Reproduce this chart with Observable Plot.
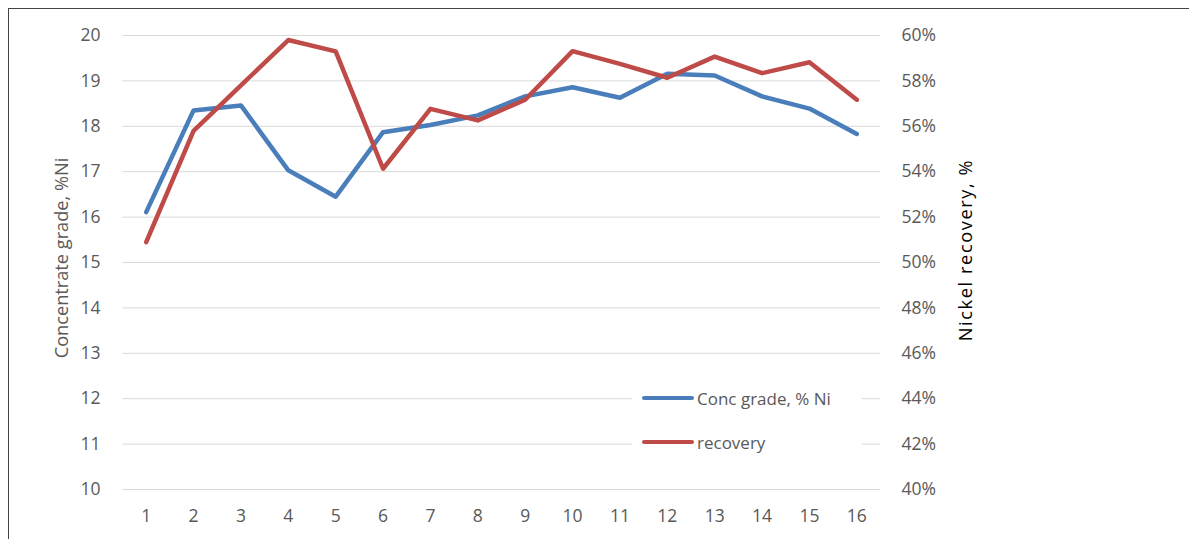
<!DOCTYPE html>
<html>
<head>
<meta charset="utf-8">
<script src="https://cdn.jsdelivr.net/npm/d3@7"></script>
<script src="https://cdn.jsdelivr.net/npm/@observablehq/plot@0.6"></script>
<style>
  html, body { margin: 0; padding: 0; background: #fff; }
  #wrap { position: relative; width: 1189px; height: 539px; overflow: hidden; font-family: "Open Sans", sans-serif; }
  #frame { position: absolute; left: 8px; top: 8px; width: 1200px; height: 600px; border: 1px solid #444; box-sizing: border-box; pointer-events: none; }
  #legend { position: absolute; left: 632px; top: 382px; width: 230px; height: 76px; background: #fff; }
  .item { position: absolute; left: 0; height: 22px; display: flex; align-items: center; font-size: 17px; color: #595959; white-space: nowrap; }
  .swatch { width: 52px; height: 4px; border-radius: 2px; margin-left: 10px; margin-right: 3px; }
  .axlabel { position: absolute; white-space: nowrap; line-height: 1; transform: translate(-50%, -50%) rotate(-90deg); }
</style>
</head>
<body>
<div id="wrap"><div id="chart"></div><div id="legend"></div>
<div id="lab-left" class="axlabel" style="left:61px; top:258px; font-size:18.2px; color:#595959;"></div>
<div id="lab-right" class="axlabel" style="left:965px; top:250px; font-size:18.2px; letter-spacing:1.6px; color:#000;"></div>
<div id="frame"></div></div>
<script>
const categories = [1, 2, 3, 4, 5, 6, 7, 8, 9, 10, 11, 12, 13, 14, 15, 16];
const concGrade = [16.11, 18.35, 18.46, 17.03, 16.45, 17.87, 18.03, 18.24, 18.66, 18.86, 18.63, 19.16, 19.12, 18.66, 18.39, 17.83];
const recovery = [50.9, 55.8, 57.8, 59.8, 59.3, 54.13, 56.77, 56.26, 57.17, 59.31, 58.75, 58.14, 59.07, 58.34, 58.82, 57.17];
const leftTicks = [10, 11, 12, 13, 14, 15, 16, 17, 18, 19, 20];
const rightTicks = [40, 42, 44, 46, 48, 50, 52, 54, 56, 58, 60];
const seriesNames = ["Conc grade, % Ni", "recovery"];
const colors = ["#4A7EBB", "#BE4B48"];
const leftLabel = "Concentrate grade, %Ni";
const rightLabel = "Nickel recovery, %";

// map right-axis (recovery %) onto left scale
const toLeft = r => 10 + (r - 40) / 2;

const blueData = categories.map((c, i) => ({x: c, y: concGrade[i]}));
const redData = categories.map((c, i) => ({x: c, y: toLeft(recovery[i])}));

const chart = Plot.plot({
  width: 1189,
  height: 539,
  marginLeft: 122,
  marginRight: 309,
  marginTop: 35,
  marginBottom: 50,
  style: {fontFamily: "'Open Sans', sans-serif", fontSize: "17.5px", color: "#595959", background: "transparent"},
  x: {type: "point", domain: categories, padding: 0.5, round: false},
  y: {domain: [10, 20]},
  marks: [
    Plot.gridY(leftTicks, {stroke: "#D9D9D9", strokeOpacity: 1, strokeWidth: 1}),
    Plot.axisY(leftTicks, {anchor: "left", tickSize: 0, tickPadding: 22, label: null, fill: "#595959"}),
    Plot.axisY(rightTicks.map(toLeft), {anchor: "right", tickSize: 0, tickPadding: 21, label: null, fill: "#595959",
      tickFormat: d => (40 + (d - 10) * 2) + "%", textAnchor: "start"}),
    Plot.axisX(categories, {anchor: "bottom", tickSize: 0, tickPadding: 20, label: null, fill: "#595959"}),
    Plot.line(blueData, {x: "x", y: "y", stroke: colors[0], strokeWidth: 4.5, strokeLinejoin: "round", strokeLinecap: "round"}),
    Plot.line(redData, {x: "x", y: "y", stroke: colors[1], strokeWidth: 4.5, strokeLinejoin: "round", strokeLinecap: "round"})
  ]
});
document.getElementById("chart").appendChild(chart);
document.getElementById("lab-left").textContent = leftLabel;
document.getElementById("lab-right").textContent = rightLabel;

const legend = document.getElementById("legend");
seriesNames.forEach((name, i) => {
  const item = document.createElement("div");
  item.className = "item";
  item.style.top = (5 + i * 44) + "px";
  const sw = document.createElement("div");
  sw.className = "swatch";
  sw.style.background = colors[i];
  const t = document.createElement("span");
  t.textContent = name;
  item.appendChild(sw);
  item.appendChild(t);
  legend.appendChild(item);
});
</script>
</body>
</html>
